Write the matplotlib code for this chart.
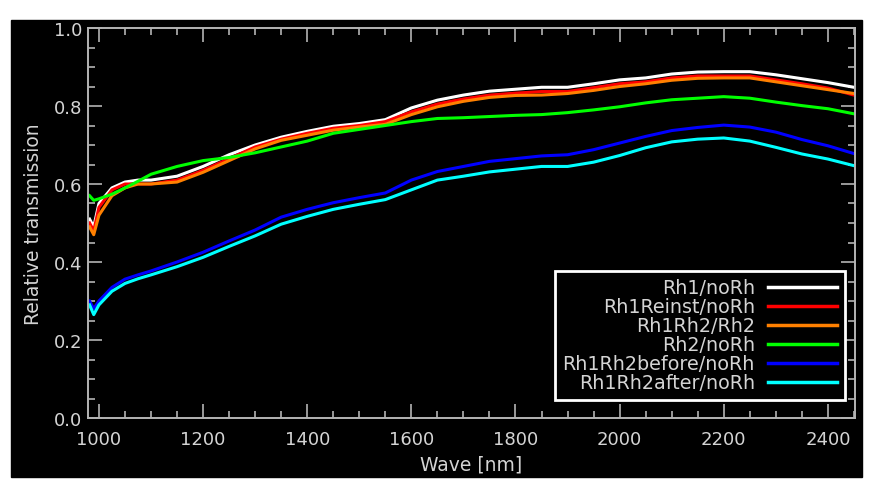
import matplotlib
matplotlib.use('Agg')
import matplotlib.pyplot as plt
from matplotlib.patches import Rectangle
from matplotlib.ticker import MultipleLocator

# wavelength grid [nm]
wave = [982, 990, 1000, 1025, 1050, 1075, 1100, 1150, 1200, 1250, 1300, 1350,
        1400, 1450, 1500, 1550, 1600, 1650, 1700, 1750, 1800, 1850, 1900, 1950,
        2000, 2050, 2100, 2150, 2200, 2250, 2300, 2350, 2400, 2450]

rh1_norh = [0.51, 0.49, 0.55, 0.59, 0.605, 0.61, 0.61, 0.62, 0.645, 0.675, 0.70, 0.72,
            0.735, 0.748, 0.755, 0.765, 0.795, 0.815, 0.828, 0.838, 0.843, 0.848, 0.848, 0.857,
            0.867, 0.872, 0.882, 0.887, 0.888, 0.888, 0.88, 0.87, 0.86, 0.848]
rh1reinst_norh = [0.50, 0.48, 0.54, 0.585, 0.60, 0.60, 0.60, 0.61, 0.635, 0.665, 0.695, 0.715,
                  0.73, 0.743, 0.75, 0.76, 0.785, 0.805, 0.818, 0.828, 0.833, 0.837, 0.837, 0.847,
                  0.857, 0.862, 0.872, 0.877, 0.877, 0.877, 0.867, 0.857, 0.846, 0.828]
rh1rh2_rh2 = [0.49, 0.47, 0.52, 0.57, 0.59, 0.60, 0.60, 0.605, 0.63, 0.66, 0.69, 0.712,
              0.725, 0.738, 0.746, 0.753, 0.778, 0.798, 0.812, 0.822, 0.827, 0.828, 0.832, 0.84,
              0.85, 0.857, 0.866, 0.871, 0.872, 0.872, 0.862, 0.852, 0.842, 0.832]
rh2_norh = [0.57, 0.558, 0.562, 0.574, 0.59, 0.607, 0.625, 0.645, 0.66, 0.668, 0.68, 0.695,
            0.71, 0.73, 0.74, 0.75, 0.76, 0.768, 0.77, 0.773, 0.776, 0.778, 0.783, 0.79,
            0.798, 0.808, 0.816, 0.82, 0.824, 0.82, 0.81, 0.801, 0.793, 0.78]
rh1rh2before_norh = [0.30, 0.28, 0.30, 0.335, 0.356, 0.367, 0.377, 0.40, 0.425, 0.454, 0.482, 0.515,
                     0.535, 0.552, 0.565, 0.577, 0.61, 0.632, 0.645, 0.658, 0.665, 0.672, 0.675, 0.688,
                     0.705, 0.722, 0.737, 0.745, 0.751, 0.746, 0.733, 0.714, 0.698, 0.678]
rh1rh2after_norh = [0.29, 0.265, 0.29, 0.325, 0.345, 0.357, 0.367, 0.388, 0.412, 0.44, 0.467, 0.497,
                    0.517, 0.535, 0.548, 0.56, 0.585, 0.61, 0.62, 0.631, 0.638, 0.645, 0.645, 0.656,
                    0.673, 0.693, 0.708, 0.715, 0.718, 0.71, 0.694, 0.677, 0.664, 0.647]

series = [('Rh1/noRh', rh1_norh, '#ffffff'),
          ('Rh1Reinst/noRh', rh1reinst_norh, '#ff0000'),
          ('Rh1Rh2/Rh2', rh1rh2_rh2, '#ff8000'),
          ('Rh2/noRh', rh2_norh, '#00ff00'),
          ('Rh1Rh2before/noRh', rh1rh2before_norh, '#0000ff'),
          ('Rh1Rh2after/noRh', rh1rh2after_norh, '#00ffff')]

txt = '#d4d4d4'
axcol = '#b4b4b4'

fig = plt.figure(figsize=(8.72, 4.81), dpi=100, facecolor='white')
# black plotting window (the white strip at top is the cut title)
fig.patches.append(Rectangle((11/872, 3/481), 851/872, 457/481,
                             transform=fig.transFigure, color='black', zorder=-10))

ax = fig.add_axes([88/872, 1 - 419/481, 767/872, 390/481])
ax.set_facecolor('black')

for name, vals, col in series:
    ax.plot(wave, vals, color=col, lw=2.2, label=name)

ax.set_xlim(979, 2452)
ax.set_ylim(0.0, 1.0)
ax.xaxis.set_major_locator(MultipleLocator(200))
ax.xaxis.set_minor_locator(MultipleLocator(50))
ax.yaxis.set_major_locator(MultipleLocator(0.2))
ax.yaxis.set_minor_locator(MultipleLocator(0.05))
ax.yaxis.set_major_formatter(plt.FormatStrFormatter('%.1f'))
ax.tick_params(which='both', direction='in', top=True, right=True,
               colors=axcol, labelcolor=txt, labelsize=13, width=1.2)
ax.tick_params(which='major', length=10)
ax.tick_params(axis='x', which='major', pad=9)
ax.tick_params(axis='y', which='major', pad=4)
ax.tick_params(which='minor', length=5)
for s in ax.spines.values():
    s.set_color(axcol)
    s.set_linewidth(1.4)

ax.set_xlabel('Wave [nm]', color=txt, fontsize=13.5, labelpad=4)
ax.set_ylabel('Relative transmission', color=txt, fontsize=13.5, labelpad=8)

leg = ax.legend(loc='lower right', bbox_to_anchor=(0.987, 0.046), markerfirst=False,
                facecolor='black', edgecolor='white', framealpha=1, fancybox=False,
                fontsize=13.8, handlelength=3.6, handletextpad=0.7, labelspacing=0.0,
                borderpad=0.4, borderaxespad=0)
leg.get_frame().set_linewidth(2)
for h in leg.get_lines():
    h.set_linewidth(2.5)

# right-align legend labels: hide the legend's own texts and redraw them
fig.canvas.draw()
r = fig.canvas.get_renderer()
boxes = [t.get_window_extent(r) for t in leg.get_texts()]
right = min(b.x0 for b in boxes) + max(b.width for b in boxes)
for t, b in zip(leg.get_texts(), boxes):
    t.set_alpha(0)
    fig.text(right, (b.y0 + b.y1) / 2, t.get_text(), transform=None,
             ha='right', va='center', fontsize=13.8, color=txt, zorder=10)

fig.savefig('out.png', dpi=100, facecolor='white')
